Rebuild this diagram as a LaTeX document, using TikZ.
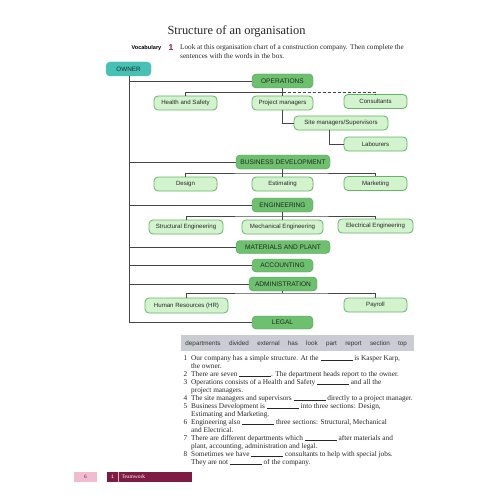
\documentclass[tikz,border=0pt]{standalone}
\usepackage{fontspec}
\setmainfont{Liberation Serif}
\newfontfamily\chartfont{Liberation Sans}
\definecolor{teal1}{HTML}{45C1B5}
\definecolor{dept}{HTML}{6CC06E}
\definecolor{deptline}{HTML}{4E9E50}
\definecolor{subfill}{HTML}{D3F3CE}
\definecolor{subline}{HTML}{62B663}
\definecolor{conn}{HTML}{454545}
\definecolor{wordbox}{HTML}{C9CDD3}
\definecolor{maroon1}{HTML}{7E1A44}
\definecolor{pink1}{HTML}{F1BCCF}
\definecolor{numred}{HTML}{8E1B3E}
\newcommand\blank{\rule[-0.3pt]{32pt}{0.4pt}}
\tikzset{
  ownerbox/.style={draw=teal1, fill=teal1, rounded corners=4pt, minimum height=14pt, inner sep=0pt, font=\chartfont\fontsize{6.3}{7}\selectfont, text=black!85},
  deptbox/.style={draw=deptline, fill=dept, rounded corners=4pt, minimum height=14pt, inner sep=0pt, font=\chartfont\fontsize{6.6}{7}\selectfont, text=black!85},
  subbox/.style={draw=subline, line width=0.8pt, fill=subfill, rounded corners=4pt, minimum height=14pt, inner sep=0pt, font=\chartfont\fontsize{6.1}{7}\selectfont, text=black!85},
  link/.style={draw=conn, line width=0.75pt},
  word/.style={anchor=base, font=\chartfont\fontsize{6.3}{7}\selectfont, text=black!80, inner sep=0pt},
  sent/.style={anchor=base west, inner sep=0pt, font=\fontsize{7.3}{8}\selectfont, text=black!85},
  num/.style={anchor=base west, inner sep=0pt, font=\fontsize{7.3}{8}\selectfont, text=black!85}
}
\begin{document}
\begin{tikzpicture}[x=1pt,y=-1pt]
\useasboundingbox (0,0) rectangle (500,500);
\fill[white] (0,0) rectangle (500,500);
% title and instructions
\node[font=\fontsize{12.4}{14}\selectfont, text=black!85] (title) at (236.5,31) {Structure of an organisation};
\node[anchor=base east, inner sep=0pt, font=\chartfont\bfseries\fontsize{5.6}{6}\selectfont] (voc) at (161.5,50) {Vocabulary};
\node[anchor=base west, inner sep=0pt, font=\chartfont\bfseries\fontsize{8.5}{9}\selectfont, text=numred] (one) at (168.5,50.5) {1};
\node[anchor=base west, inner sep=0pt, font=\fontsize{7.2}{8}\selectfont, text=black!85] (instr1) at (180,50) {Look at this organisation chart of a construction company. Then complete the};
\node[anchor=base west, inner sep=0pt, font=\fontsize{7.2}{8}\selectfont, text=black!85] (instr2) at (180,59) {sentences with the words in the box.};
% chart nodes
\node[ownerbox, minimum width=45pt] (owner) at (128.5,69) {OWNER};
\node[deptbox, minimum width=61pt] (ops) at (282.5,81) {OPERATIONS};
\node[subbox, minimum width=63pt] (hs) at (185.5,103) {Health and Safety};
\node[subbox, minimum width=61pt] (pm) at (282.5,103) {Project managers};
\node[subbox, minimum width=63pt] (cons) at (375.5,101.5) {Consultants};
\node[subbox, minimum width=94pt] (site) at (341,123) {Site managers/Supervisors};
\node[subbox, minimum width=63pt] (lab) at (375.5,144) {Labourers};
\node[deptbox, minimum width=94pt] (bd) at (283,162) {BUSINESS DEVELOPMENT};
\node[subbox, minimum width=63pt] (design) at (185.5,184) {Design};
\node[subbox, minimum width=61pt] (est) at (282.5,184) {Estimating};
\node[subbox, minimum width=63pt] (mkt) at (375.5,183.5) {Marketing};
\node[deptbox, minimum width=61pt] (eng) at (282.5,205) {ENGINEERING};
\node[subbox, minimum width=74pt] (struct) at (186,227) {Structural Engineering};
\node[subbox, minimum width=81pt] (mech) at (282.5,227) {Mechanical Engineering};
\node[subbox, minimum width=75pt] (elec) at (375.5,226) {Electrical Engineering};
\node[deptbox, minimum width=94pt, minimum height=13pt] (mat) at (283,247) {MATERIALS AND PLANT};
\node[deptbox, minimum width=61pt, minimum height=13pt] (acc) at (282.5,265.5) {ACCOUNTING};
\node[deptbox, minimum width=68pt] (adm) at (283,284) {ADMINISTRATION};
\node[subbox, minimum width=83pt, minimum height=15pt] (hr) at (186.5,305.5) {Human Resources (HR)};
\node[subbox, minimum width=63pt] (pay) at (375.5,305) {Payroll};
\node[deptbox, minimum width=61pt, minimum height=13pt] (legal) at (282.5,322.5) {LEGAL};
% trunk connectors
\coordinate (tr) at (129,76);
\draw[link] (tr) |- (ops.west);
\draw[link] (tr) |- (bd.west);
\draw[link] (tr) |- (eng.west);
\draw[link] (tr) |- (mat.west);
\draw[link] (tr) |- (acc.west);
\draw[link] (tr) |- (adm.west);
\draw[link] (tr) |- (legal.west);
% operations
\coordinate (b1) at (282.5,92);
\draw[link] (ops.south) -- (pm.north);
\draw[link] (hs.north) |- (b1);
\draw[link, dashed, dash pattern=on 3pt off 2pt] (b1) -| (cons.north);
\draw[link] (pm.south) |- (site.west);
\draw[link] ([xshift=-12pt]site.south) |- (lab.west);
% business development
\coordinate (b2) at (282.5,173);
\draw[link] (bd.south -| b2) -- (est.north);
\draw[link] (design.north) |- (b2) -| (mkt.north);
% engineering
\coordinate (b3) at (282.5,216);
\draw[link] (eng.south) -- (mech.north);
\draw[link] (struct.north) |- (b3) -| (elec.north);
% administration
\coordinate (b4) at (282.5,293);
\draw[link] (adm.south -| b4) -- (b4);
\draw[link] (hr.north) |- (b4) -| (pay.north);
% word box
\node[fill=wordbox, minimum width=233pt, minimum height=16pt, inner sep=0pt] (wb) at (297.5,343) {};
\node[word] (w1) at (203,345.5) {departments};
\node[word] (w2) at (239,345.5) {divided};
\node[word] (w3) at (268.5,345.5) {external};
\node[word] (w4) at (293,345.5) {has};
\node[word] (w5) at (312,345.5) {look};
\node[word] (w6) at (331.5,345.5) {part};
\node[word] (w7) at (353.5,345.5) {report};
\node[word] (w8) at (380,345.5) {section};
\node[word] (w9) at (402.5,345.5) {top};
% sentences
\node[num] (n1) at (183.5,360.5) {1};
\node[sent] (s1a) at (191,360.5) {Our company has a simple structure. At the \blank{} is Kasper Karp,};
\node[sent] (s1b) at (191,368.5) {the owner.};
\node[num] (n2) at (183.5,376.5) {2};
\node[sent] (s2a) at (191,376.5) {There are seven \blank{}. The department heads report to the owner.};
\node[num] (n3) at (183.5,384.5) {3};
\node[sent] (s3a) at (191,384.5) {Operations consists of a Health and Safety \blank{} and all the};
\node[sent] (s3b) at (191,392.5) {project managers.};
\node[num] (n4) at (183.5,400.5) {4};
\node[sent] (s4a) at (191,400.5) {The site managers and supervisors \blank{} directly to a project manager.};
\node[num] (n5) at (183.5,408.5) {5};
\node[sent] (s5a) at (191,408.5) {Business Development is \blank{} into three sections: Design,};
\node[sent] (s5b) at (191,416.5) {Estimating and Marketing.};
\node[num] (n6) at (183.5,424.5) {6};
\node[sent] (s6a) at (191,424.5) {Engineering also \blank{} three sections: Structural, Mechanical};
\node[sent] (s6b) at (191,432.5) {and Electrical.};
\node[num] (n7) at (183.5,440.5) {7};
\node[sent] (s7a) at (191,440.5) {There are different departments which \blank{} after materials and};
\node[sent] (s7b) at (191,448.5) {plant, accounting, administration and legal.};
\node[num] (n8) at (183.5,456.5) {8};
\node[sent] (s8a) at (191,456.5) {Sometimes we have \blank{} consultants to help with special jobs.};
\node[sent] (s8b) at (191,464.5) {They are not \blank{} of the company.};
% footer
\node[fill=pink1, minimum width=23pt, minimum height=10pt, inner sep=0pt, font=\chartfont\fontsize{5}{6}\selectfont, text=black!70] (pg) at (85.5,477) {6};
\node[fill=maroon1, minimum width=85pt, minimum height=10pt, inner sep=0pt] (tab) at (149.5,477) {};
\node[anchor=west, inner sep=0pt, font=\chartfont\fontsize{5}{6}\selectfont, text=white] (tabn) at (111,477) {1};
\node[anchor=west, inner sep=0pt, font=\fontsize{5.5}{6}\selectfont, text=white] (tabt) at (121.5,477) {Teamwork};
\draw[white!70!maroon1, line width=0.4pt] (tab.north west) ++(11,0) coordinate (sepa) -- ++(0,10);
\end{tikzpicture}
\end{document}
